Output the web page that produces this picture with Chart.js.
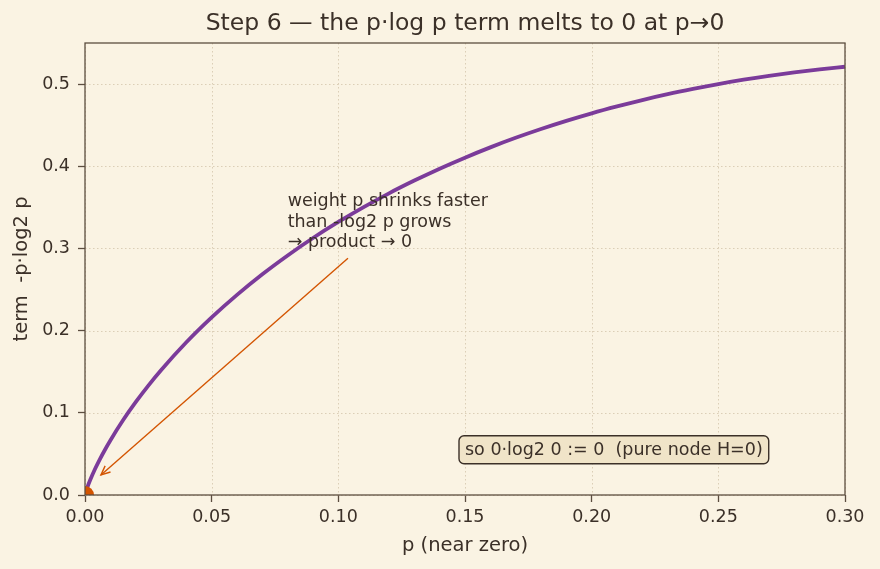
<!DOCTYPE html>
<html>
<head>
<meta charset="utf-8">
<script src="https://cdn.jsdelivr.net/npm/chart.js@4.4.1/dist/chart.umd.min.js"></script>
<style>
  html, body { margin: 0; padding: 0; background: #faf3e3; }
  #wrap { width: 880px; height: 569px; }
</style>
</head>
<body>
<div id="wrap"><canvas id="c" width="880" height="569"></canvas></div>
<script>
// values
const pValues = [0.0001, 0.0002, 0.0005, 0.001, 0.002, 0.004, 0.006, 0.008, 0.01, 0.015,
  0.02, 0.025, 0.03, 0.04, 0.05, 0.06, 0.07, 0.08, 0.09, 0.10, 0.11, 0.12, 0.13, 0.14,
  0.15, 0.16, 0.17, 0.18, 0.19, 0.20, 0.21, 0.22, 0.23, 0.24, 0.25, 0.26, 0.27, 0.28, 0.29, 0.30];
const termValues = [0.0013, 0.0025, 0.0055, 0.0100, 0.0179, 0.0319, 0.0443, 0.0557, 0.0664, 0.0909,
  0.1129, 0.1331, 0.1518, 0.1858, 0.2161, 0.2435, 0.2686, 0.2915, 0.3127, 0.3322, 0.3503, 0.3671, 0.3826, 0.3971,
  0.4105, 0.4230, 0.4346, 0.4453, 0.4552, 0.4644, 0.4728, 0.4806, 0.4877, 0.4941, 0.5000, 0.5053, 0.5100, 0.5142, 0.5179, 0.5211];
const originPoint = [{ x: 0, y: 0 }];

const xTicks = [0, 0.05, 0.10, 0.15, 0.20, 0.25, 0.30];
const yTicks = [0, 0.1, 0.2, 0.3, 0.4, 0.5];

const titleText = 'Step 6 — the p·log p term melts to 0 at p→0';
const noteLines = ['weight p shrinks faster', 'than -log2 p grows', '→ product → 0'];
const noteAt = { x: 0.08, y: 0.30 };
const arrowFrom = { x: 0.1038, y: 0.288 };
const arrowTo = { x: 0.0063, y: 0.0244 };
const boxText = 'so 0·log2 0 := 0  (pure node H=0)';
const boxAt = { x: 0.15, y: 0.055 };

const INK = '#3b3028';
const SPINE = '#5c4e40';
const FONT = '"DejaVu Sans", sans-serif';

// grid, spines, title, note, arrow and box
const decor = {
  id: 'decor',
  beforeDatasetsDraw(chart) {
    const { ctx, chartArea: a, scales: { x, y } } = chart;
    ctx.save();
    ctx.strokeStyle = '#d7cab1';
    ctx.lineWidth = 0.9;
    ctx.setLineDash([1.5, 2.5]);
    xTicks.forEach(v => {
      const px = Math.round(x.getPixelForValue(v)) + 0.5;
      ctx.beginPath(); ctx.moveTo(px, a.top); ctx.lineTo(px, a.bottom); ctx.stroke();
    });
    yTicks.forEach(v => {
      const py = Math.round(y.getPixelForValue(v)) + 0.5;
      ctx.beginPath(); ctx.moveTo(a.left, py); ctx.lineTo(a.right, py); ctx.stroke();
    });
    ctx.restore();
  },
  afterDatasetsDraw(chart) {
    const { ctx, chartArea: a, scales: { x, y } } = chart;
    ctx.save();
    ctx.strokeStyle = SPINE;
    ctx.lineWidth = 1.3;
    ctx.strokeRect(a.left, a.top, a.right - a.left, a.bottom - a.top);

    // title, centred over the plot area
    ctx.fillStyle = INK;
    ctx.font = '23.5px ' + FONT;
    ctx.textAlign = 'center';
    ctx.textBaseline = 'middle';
    ctx.fillText(titleText, (a.left + a.right) / 2, 24);

    // annotation text
    ctx.font = '17.5px ' + FONT;
    ctx.textAlign = 'left';
    ctx.textBaseline = 'alphabetic';
    const tx = x.getPixelForValue(noteAt.x);
    const ty = y.getPixelForValue(noteAt.y);
    const lh = 20.5;
    noteLines.forEach((s, i) => {
      ctx.fillText(s, tx, ty - 1 - (noteLines.length - 1 - i) * lh);
    });

    // arrow
    const x0 = x.getPixelForValue(arrowFrom.x), y0 = y.getPixelForValue(arrowFrom.y);
    const x1 = x.getPixelForValue(arrowTo.x), y1 = y.getPixelForValue(arrowTo.y);
    ctx.strokeStyle = '#d35400';
    ctx.lineWidth = 1.4;
    ctx.beginPath(); ctx.moveTo(x0, y0); ctx.lineTo(x1, y1); ctx.stroke();
    const ang = Math.atan2(y1 - y0, x1 - x0);
    const hl = 10, hw = 0.42;
    ctx.beginPath();
    ctx.moveTo(x1 - hl * Math.cos(ang - hw), y1 - hl * Math.sin(ang - hw));
    ctx.lineTo(x1, y1);
    ctx.lineTo(x1 - hl * Math.cos(ang + hw), y1 - hl * Math.sin(ang + hw));
    ctx.stroke();

    // boxed note
    const bx = x.getPixelForValue(boxAt.x);
    const by = y.getPixelForValue(boxAt.y);
    const w = ctx.measureText(boxText).width;
    const pad = 6, h = 28;
    ctx.beginPath();
    ctx.roundRect(bx - pad, by - h / 2, w + pad * 2, h, 5);
    ctx.fillStyle = '#f0e4c8';
    ctx.fill();
    ctx.strokeStyle = INK;
    ctx.lineWidth = 1.4;
    ctx.stroke();
    ctx.fillStyle = INK;
    ctx.textBaseline = 'middle';
    ctx.fillText(boxText, bx, by + 1);
    ctx.restore();
  }
};

const curve = pValues.map((p, i) => ({ x: p, y: termValues[i] }));

new Chart(document.getElementById('c'), {
  type: 'scatter',
  data: {
    datasets: [
      {
        data: originPoint,
        backgroundColor: '#d35400',
        borderWidth: 0,
        pointRadius: 9,
        order: 0
      },
      {
        data: curve,
        showLine: true,
        borderColor: '#7b3b9a',
        borderWidth: 3.8,
        pointRadius: 0,
        cubicInterpolationMode: 'monotone',
        order: 1
      }
    ]
  },
  options: {
    responsive: false,
    animation: false,
    devicePixelRatio: 1,
    layout: { padding: { left: 0, right: 35, top: 43, bottom: 0 } },
    plugins: {
      legend: { display: false },
      tooltip: { enabled: false },
      title: { display: false }
    },
    scales: {
      x: {
        type: 'linear',
        min: 0,
        max: 0.3,
        afterBuildTicks: ax => { ax.ticks = xTicks.map(v => ({ value: v })); },
        afterFit: ax => { ax.height = 74; },
        ticks: {
          color: INK,
          font: { family: FONT, size: 17.5 },
          padding: 5,
          maxRotation: 0,
          callback: v => v.toFixed(2)
        },
        grid: { drawOnChartArea: false, tickLength: 7, tickColor: SPINE, tickWidth: 1.3 },
        border: { display: false },
        title: {
          display: true,
          text: 'p (near zero)',
          color: INK,
          font: { family: FONT, size: 19.5 },
          padding: { top: 0, bottom: 11 }
        }
      },
      y: {
        type: 'linear',
        min: 0,
        max: 0.55,
        afterBuildTicks: ax => { ax.ticks = yTicks.map(v => ({ value: v })); },
        afterFit: ax => { ax.width = 85; },
        ticks: {
          color: INK,
          font: { family: FONT, size: 17.5 },
          padding: 8,
          callback: v => v.toFixed(1)
        },
        grid: { drawOnChartArea: false, tickLength: 7, tickColor: SPINE, tickWidth: 1.3 },
        border: { display: false },
        title: {
          display: true,
          text: 'term  -p·log2 p',
          color: INK,
          font: { family: FONT, size: 19.5 },
          padding: { top: 10, bottom: 0 }
        }
      }
    }
  },
  plugins: [decor]
});
</script>
</body>
</html>
